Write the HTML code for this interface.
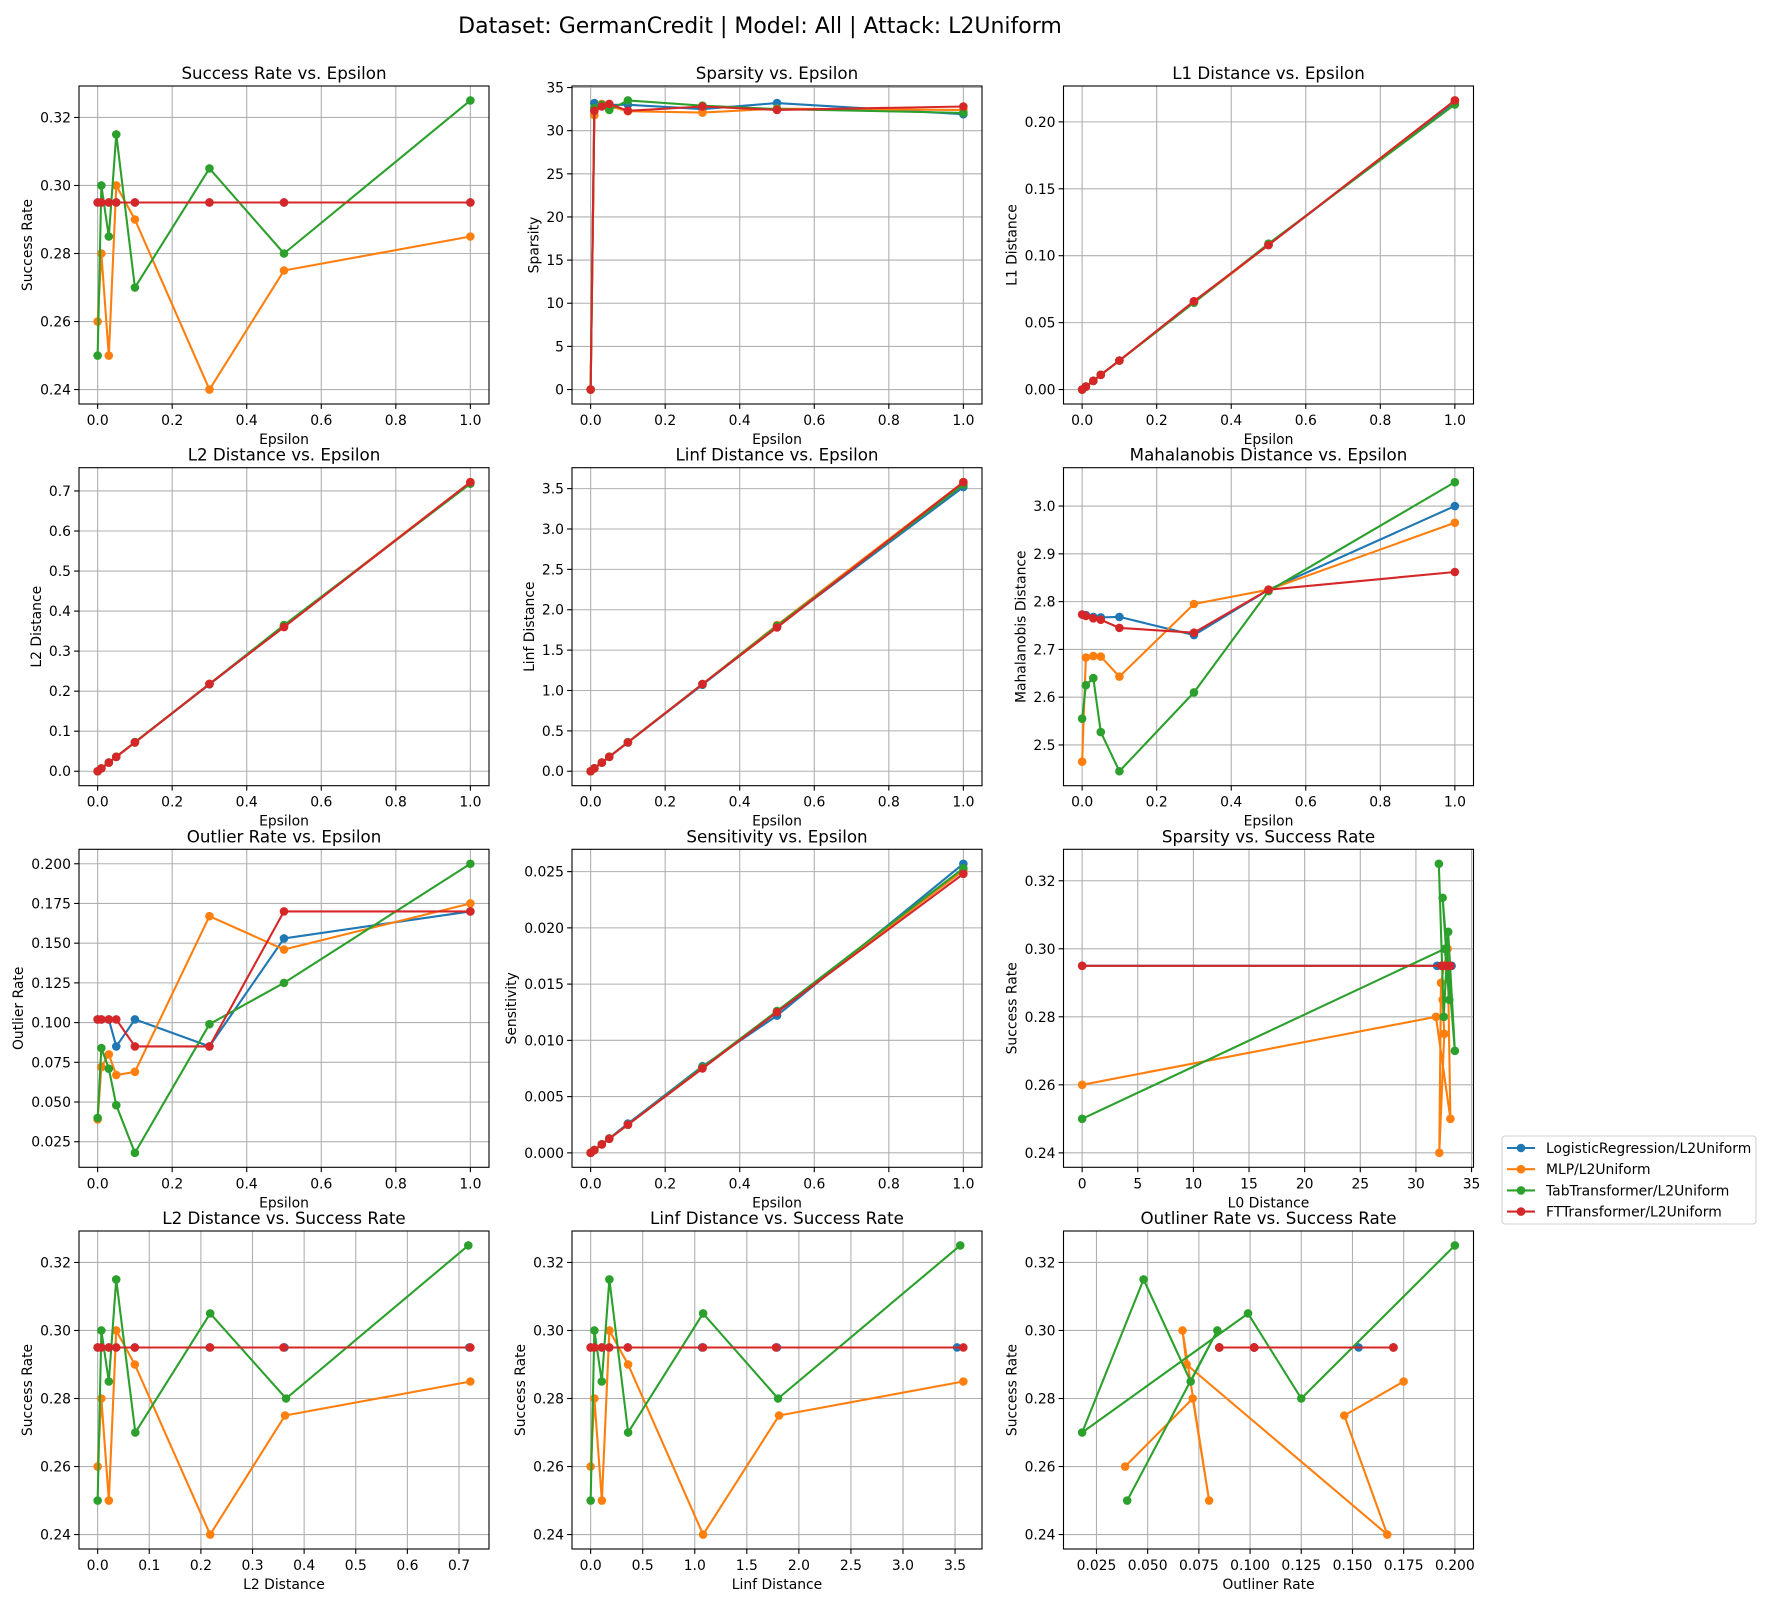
<!DOCTYPE html>
<html><head><meta charset="utf-8"><style>
html,body{margin:0;padding:0;background:#fff;}
svg{display:block;font-family:"DejaVu Sans","Liberation Sans",sans-serif;}
</style></head><body>
<svg id="fig" width="1766" height="1602" viewBox="0 0 1766 1602" xmlns="http://www.w3.org/2000/svg">
<rect width="1766" height="1602" fill="#fff"/>
<text x="760" y="33" font-size="22" text-anchor="middle" fill="#000">Dataset: GermanCredit | Model: All | Attack: L2Uniform</text>
</svg>
<script>
const epsilon = [0, 0.01, 0.03, 0.05, 0.1, 0.3, 0.5, 1.0];
const modelNames = ['LogisticRegression/L2Uniform','MLP/L2Uniform','TabTransformer/L2Uniform','FTTransformer/L2Uniform'];
const successRate = [
  [0.295,0.295,0.295,0.295,0.295,0.295,0.295,0.295],
  [0.26,0.28,0.25,0.30,0.29,0.24,0.275,0.285],
  [0.25,0.30,0.285,0.315,0.27,0.305,0.28,0.325],
  [0.295,0.295,0.295,0.295,0.295,0.295,0.295,0.295]];
const sparsity = [
  [0,33.2,33.0,33.0,33.0,32.5,33.2,31.9],
  [0,31.8,33.1,32.85,32.25,32.1,32.55,32.4],
  [0,32.6,33.0,32.4,33.5,32.9,32.5,32.06],
  [0,32.3,32.8,33.1,32.3,32.8,32.4,32.8]];
const l1Distance = [
  [0,0.0022,0.0065,0.011,0.0217,0.065,0.108,0.215],
  [0,0.0021,0.0064,0.011,0.0216,0.065,0.108,0.216],
  [0,0.0022,0.0065,0.011,0.0216,0.065,0.109,0.213],
  [0,0.0022,0.0065,0.011,0.0217,0.066,0.108,0.216]];
const l2Distance = [
  [0,0.0072,0.0216,0.036,0.072,0.217,0.362,0.72],
  [0,0.0072,0.0217,0.036,0.072,0.218,0.363,0.722],
  [0,0.0072,0.0217,0.036,0.073,0.218,0.365,0.718],
  [0,0.0072,0.0217,0.036,0.072,0.218,0.36,0.722]];
const linfDistance = [
  [0,0.036,0.107,0.178,0.357,1.07,1.79,3.52],
  [0,0.036,0.108,0.18,0.36,1.08,1.81,3.58],
  [0,0.036,0.107,0.18,0.36,1.08,1.80,3.55],
  [0,0.036,0.107,0.179,0.357,1.08,1.78,3.58]];
const mahalanobis = [
  [2.773,2.772,2.768,2.767,2.768,2.73,2.825,3.0],
  [2.465,2.683,2.686,2.685,2.643,2.795,2.825,2.965],
  [2.555,2.625,2.64,2.527,2.445,2.61,2.822,3.05],
  [2.773,2.77,2.765,2.762,2.745,2.735,2.825,2.862]];
const outlierRate = [
  [0.102,0.102,0.102,0.085,0.102,0.085,0.153,0.17],
  [0.039,0.072,0.08,0.067,0.069,0.167,0.146,0.175],
  [0.04,0.084,0.071,0.048,0.018,0.099,0.125,0.2],
  [0.102,0.102,0.102,0.102,0.085,0.085,0.17,0.17]];
const sensitivity = [
  [0,0.00026,0.00077,0.00128,0.0026,0.0077,0.0122,0.0257],
  [0,0.00025,0.00076,0.00126,0.0025,0.0076,0.0126,0.0251],
  [0,0.00025,0.00076,0.00127,0.0025,0.0076,0.0126,0.0253],
  [0,0.00025,0.00075,0.00125,0.0025,0.0075,0.0125,0.0248]];
const epsTicks = [0,0.2,0.4,0.6,0.8,1.0];
const successTicks = [0.24,0.26,0.28,0.30,0.32];
const sparsityTicks = [0,5,10,15,20,25,30,35];
const l1Ticks = [0,0.05,0.10,0.15,0.20];
const l2Ticks = [0,0.1,0.2,0.3,0.4,0.5,0.6,0.7];
const linfTicks = [0,0.5,1.0,1.5,2.0,2.5,3.0,3.5];
const mahalTicks = [2.5,2.6,2.7,2.8,2.9,3.0];
const outlierTicks = [0.025,0.05,0.075,0.1,0.125,0.15,0.175,0.2];
const sensTicks = [0,0.005,0.01,0.015,0.02,0.025];
const colors = ['#1f77b4','#ff7f0e','#2ca02c','#d62728'];

const panels = [
 {n:'success-vs-epsilon',t:'Success Rate vs. Epsilon',x:()=>epsilon,y:successRate,xt:epsTicks,xd:1,yt:successTicks,yd:2,xl:'Epsilon',yl:'Success Rate'},
 {n:'sparsity-vs-epsilon',t:'Sparsity vs. Epsilon',x:()=>epsilon,y:sparsity,xt:epsTicks,xd:1,yt:sparsityTicks,yd:0,xl:'Epsilon',yl:'Sparsity'},
 {n:'l1-vs-epsilon',t:'L1 Distance vs. Epsilon',x:()=>epsilon,y:l1Distance,xt:epsTicks,xd:1,yt:l1Ticks,yd:2,xl:'Epsilon',yl:'L1 Distance'},
 {n:'l2-vs-epsilon',t:'L2 Distance vs. Epsilon',x:()=>epsilon,y:l2Distance,xt:epsTicks,xd:1,yt:l2Ticks,yd:1,xl:'Epsilon',yl:'L2 Distance'},
 {n:'linf-vs-epsilon',t:'Linf Distance vs. Epsilon',x:()=>epsilon,y:linfDistance,xt:epsTicks,xd:1,yt:linfTicks,yd:1,xl:'Epsilon',yl:'Linf Distance'},
 {n:'mahalanobis-vs-epsilon',t:'Mahalanobis Distance vs. Epsilon',x:()=>epsilon,y:mahalanobis,xt:epsTicks,xd:1,yt:mahalTicks,yd:1,xl:'Epsilon',yl:'Mahalanobis Distance'},
 {n:'outlier-vs-epsilon',t:'Outlier Rate vs. Epsilon',x:()=>epsilon,y:outlierRate,xt:epsTicks,xd:1,yt:outlierTicks,yd:3,xl:'Epsilon',yl:'Outlier Rate'},
 {n:'sensitivity-vs-epsilon',t:'Sensitivity vs. Epsilon',x:()=>epsilon,y:sensitivity,xt:epsTicks,xd:1,yt:sensTicks,yd:3,xl:'Epsilon',yl:'Sensitivity'},
 {n:'sparsity-vs-success',t:'Sparsity vs. Success Rate',x:i=>sparsity[i],y:successRate,xt:sparsityTicks,xd:0,yt:successTicks,yd:2,xl:'L0 Distance',yl:'Success Rate'},
 {n:'l2-vs-success',t:'L2 Distance vs. Success Rate',x:i=>l2Distance[i],y:successRate,xt:l2Ticks,xd:1,yt:successTicks,yd:2,xl:'L2 Distance',yl:'Success Rate'},
 {n:'linf-vs-success',t:'Linf Distance vs. Success Rate',x:i=>linfDistance[i],y:successRate,xt:linfTicks,xd:1,yt:successTicks,yd:2,xl:'Linf Distance',yl:'Success Rate'},
 {n:'outlier-vs-success',t:'Outliner Rate vs. Success Rate',x:i=>outlierRate[i],y:successRate,xt:outlierTicks,xd:3,yt:successTicks,yd:2,xl:'Outliner Rate',yl:'Success Rate'}
];

const NS='http://www.w3.org/2000/svg';
const svg=document.getElementById('fig');
function mk(tag,attrs,parent){const e=document.createElementNS(NS,tag);for(const k in attrs)e.setAttribute(k,attrs[k]);(parent||svg).appendChild(e);return e;}
function textW(s){let w=0;for(const c of s){w+=(c==='.')?4.4:(c==='-'?4.7:8.85);}return w;}
const colX=[79,572,1063.5], rowY=[86,467.7,849.3,1231], W=410, H=318;

panels.forEach((p,pi)=>{
  const L=colX[pi%3], T=rowY[Math.floor(pi/3)], R=L+W, B=T+H;
  const g=mk('g',{});
  
  
  let xs=[],ys=[];
  for(let i=0;i<4;i++){xs=xs.concat(p.x(i));ys=ys.concat(p.y[i]);}
  let x0=Math.min(...xs),x1=Math.max(...xs),y0=Math.min(...ys),y1=Math.max(...ys);
  const mx=(x1-x0)*0.05,my=(y1-y0)*0.05;x0-=mx;x1+=mx;y0-=my;y1+=my;
  const sx=v=>L+(v-x0)/(x1-x0)*W, sy=v=>B-(v-y0)/(y1-y0)*H;
  // grid + ticks
  p.xt.forEach(v=>{const X=sx(v);
    const gl=mk('line',{x1:X,x2:X,y1:T,y2:B,stroke:'#b0b0b0','stroke-width':1.1},g);
    
    
    mk('line',{x1:X,x2:X,y1:B,y2:B+4.9,stroke:'#000','stroke-width':1.1},g);
    const tl=mk('text',{x:X,y:B+21,'font-size':13.9,'text-anchor':'middle',fill:'#000'},g);
    tl.textContent=v.toFixed(p.xd);
    
    
  });
  let maxw=0;
  p.yt.forEach(v=>{const Y=sy(v);const s=v.toFixed(p.yd);maxw=Math.max(maxw,textW(s));
    const gl=mk('line',{x1:L,x2:R,y1:Y,y2:Y,stroke:'#b0b0b0','stroke-width':1.1},g);
    
    
    mk('line',{x1:L-4.9,x2:L,y1:Y,y2:Y,stroke:'#000','stroke-width':1.1},g);
    const tl=mk('text',{x:L-8,y:Y+5,'font-size':13.9,'text-anchor':'end',fill:'#000'},g);
    tl.textContent=s;
    
    
  });
  // series
  for(let i=0;i<4;i++){
    const xv=p.x(i), yv=p.y[i];
    const pts=xv.map((v,k)=>sx(v).toFixed(2)+','+sy(yv[k]).toFixed(2)).join(' ');
    const pl=mk('polyline',{points:pts,fill:'none',stroke:colors[i],'stroke-width':2.1,'stroke-linejoin':'round'},g);
    
    
    xv.forEach((v,k)=>{
      const c=mk('circle',{cx:sx(v),cy:sy(yv[k]),r:4.3,fill:colors[i]},g);
      
      
    });
  }
  const fr=mk('rect',{x:L,y:T,width:W,height:H,fill:'none',stroke:'#000','stroke-width':1.1},g);
  
  
  const ti=mk('text',{x:L+W/2,y:T-7,'font-size':16.7,'text-anchor':'middle',fill:'#000'},g);
  ti.textContent=p.t;
  
  
  const xl=mk('text',{x:L+W/2,y:B+40,'font-size':13.9,'text-anchor':'middle',fill:'#000'},g);
  xl.textContent=p.xl;
  
  
  const yx=L-8-maxw-8;
  const yl=mk('text',{x:yx,y:T+H/2,'font-size':13.9,'text-anchor':'middle',fill:'#000',transform:'rotate(-90 '+yx+' '+(T+H/2)+')'},g);
  yl.textContent=p.yl;
  
  
});

// legend
const lg=mk('g',{});


mk('rect',{x:1502,y:1136,width:254,height:88,rx:3,fill:'#fff',stroke:'#d0d0d0','stroke-width':1.1},lg);
modelNames.forEach((m,i)=>{
  const Y=1148+i*21.2;
  const e=mk('g',{},lg);
  
  
  mk('line',{x1:1507,x2:1535,y1:Y,y2:Y,stroke:colors[i],'stroke-width':2.1},e);
  mk('circle',{cx:1521,cy:Y,r:4.3,fill:colors[i]},e);
  const t=mk('text',{x:1546,y:Y+5,'font-size':13.9,fill:'#000'},e);
  t.textContent=m;
});
</script>
</body></html>
